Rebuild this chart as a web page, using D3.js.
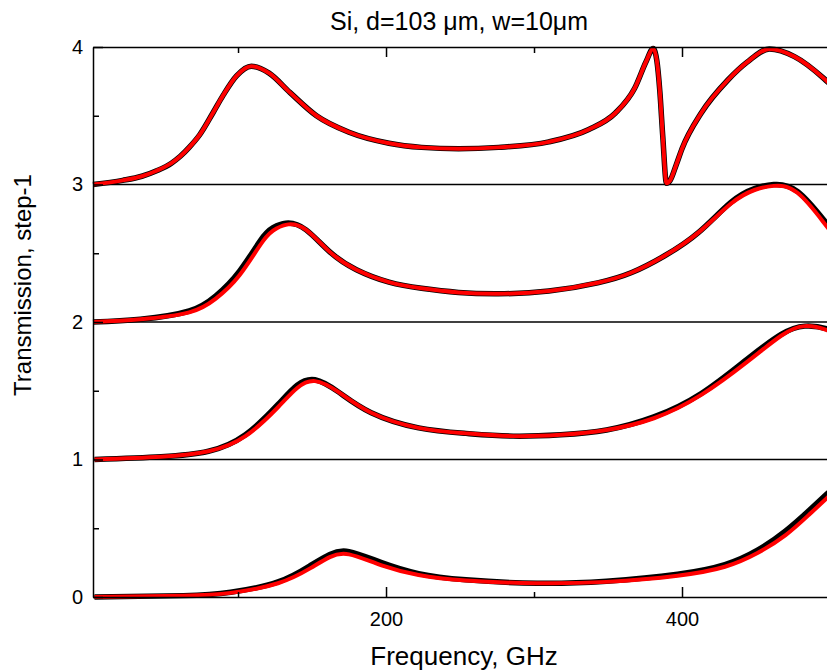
<!DOCTYPE html>
<html>
<head>
<meta charset="utf-8">
<script src="https://cdn.jsdelivr.net/npm/d3@7"></script>
<style>
  body { margin: 0; background: #fff; }
  text { font-family: Arial, "Liberation Sans", sans-serif; fill: #000; }
</style>
</head>
<body>
<div class="svg-container"></div>
<script>
// Frequency (GHz) and transmission (+ step offset)
const freqTop = [2, 22, 35, 45, 55, 61, 67, 74, 83, 90, 99, 109, 121, 135, 153, 175, 202, 224, 249, 276, 310, 337, 355, 368, 376, 380.5, 383, 385, 387, 389.5, 392, 396, 400, 413, 431, 444, 459, 476, 496, 502];
const transTop = [3.0, 3.03, 3.06, 3.10, 3.155, 3.205, 3.27, 3.36, 3.52, 3.65, 3.79, 3.86, 3.81, 3.67, 3.50, 3.38, 3.30, 3.27, 3.26, 3.27, 3.31, 3.40, 3.52, 3.70, 3.90, 3.99, 3.90, 3.68, 3.35, 3.01, 3.03, 3.14, 3.26, 3.52, 3.76, 3.89, 3.985, 3.93, 3.77, 3.71];

const freq2 = [2, 34, 67, 85, 101, 117, 126, 134, 146, 162, 180, 202, 224, 249, 276, 310, 343, 366, 388, 411, 433, 449, 462, 478, 496, 502];
const trans2Red = [2.0, 2.02, 2.07, 2.17, 2.34, 2.59, 2.68, 2.71, 2.67, 2.51, 2.38, 2.29, 2.245, 2.215, 2.205, 2.225, 2.285, 2.36, 2.48, 2.65, 2.86, 2.96, 2.99, 2.94, 2.72, 2.64];
const trans2Black = [2.0, 2.02, 2.08, 2.19, 2.37, 2.62, 2.70, 2.72, 2.67, 2.51, 2.38, 2.29, 2.245, 2.215, 2.205, 2.225, 2.285, 2.36, 2.48, 2.65, 2.87, 2.97, 3.0, 2.95, 2.74, 2.66];

const freq1 = [3, 48, 80, 105, 127, 140, 152, 168, 190, 222, 254, 286, 318, 349, 381, 413, 444, 467, 483, 498, 504];
const trans1Red = [1.0, 1.02, 1.06, 1.17, 1.38, 1.52, 1.57, 1.49, 1.34, 1.23, 1.19, 1.17, 1.18, 1.215, 1.30, 1.47, 1.71, 1.90, 1.97, 1.94, 1.90];
const trans1Black = [1.0, 1.02, 1.06, 1.18, 1.40, 1.54, 1.58, 1.49, 1.34, 1.23, 1.19, 1.17, 1.18, 1.215, 1.31, 1.48, 1.73, 1.91, 1.97, 1.95, 1.91];

const freq0 = [3, 63, 95, 127, 149, 162, 175, 197, 222, 254, 302, 349, 397, 429, 451, 470, 486, 498, 504];
const trans0Red = [0.0, 0.01, 0.03, 0.10, 0.21, 0.29, 0.31, 0.23, 0.16, 0.12, 0.10, 0.11, 0.155, 0.22, 0.32, 0.45, 0.60, 0.72, 0.78];
const trans0Black = [0.0, 0.01, 0.035, 0.11, 0.23, 0.31, 0.33, 0.25, 0.17, 0.125, 0.10, 0.115, 0.165, 0.235, 0.34, 0.48, 0.63, 0.75, 0.81];

const stepLines = [1, 2, 3];
const yMajor = [0, 1, 2, 3, 4];
const yMinor = [0.5, 1.5, 2.5, 3.5];
const xMajor = [200, 400];
const xMinor = [100, 300, 500];

const zip = (xs, ys) => xs.map((x, i) => ({ f: x, t: ys[i] }));

// the sharp resonance on top keeps the monotone curve, the rest are smooth splines
const series = [
  { pts: zip(freqTop, transTop), color: 'black', sharp: true },
  { pts: zip(freqTop, transTop), color: 'red', sharp: true },
  { pts: zip(freq2, trans2Black), color: 'black' },
  { pts: zip(freq2, trans2Red), color: 'red' },
  { pts: zip(freq1, trans1Black), color: 'black' },
  { pts: zip(freq1, trans1Red), color: 'red' },
  { pts: zip(freq0, trans0Black), color: 'black' },
  { pts: zip(freq0, trans0Red), color: 'red' }
];

const W = 827, H = 671;
const margin = { top: 47, right: -3, bottom: 74, left: 93 };
const width = W - margin.left - margin.right;
const height = H - margin.top - margin.bottom;

const xScale = d3.scaleLinear().domain([2, 500]).range([0, width]);
const yScale = d3.scaleLinear().domain([0, 4]).range([height, 0]);

const svg = d3.select('.svg-container')
  .append('svg')
  .attr('width', W)
  .attr('height', H)
  .append('g')
  .attr('transform', `translate(${margin.left}, ${margin.top})`);

// step lines
svg.append('g')
  .selectAll('line')
  .data(stepLines)
  .enter()
  .append('line')
  .attr('x1', 0).attr('x2', width)
  .attr('y1', d => yScale(d)).attr('y2', d => yScale(d))
  .attr('stroke', '#000')
  .attr('stroke-width', 1.5);

// curves
const lineSharp = d3.line()
  .x(d => xScale(d.f))
  .y(d => yScale(d.t))
  .curve(d3.curveMonotoneX);
const lineSmooth = d3.line()
  .x(d => xScale(d.f))
  .y(d => yScale(d.t))
  .curve(d3.curveNatural);

svg.append('g')
  .selectAll('path')
  .data(series)
  .enter()
  .append('path')
  .attr('d', d => (d.sharp ? lineSharp : lineSmooth)(d.pts))
  .attr('fill', 'none')
  .attr('stroke', d => d.color)
  .attr('stroke-width', d => d.color == 'red' ? 4 : 5.5)
  .attr('stroke-linejoin', 'round');

// axes: ticks point inward
const yAxis = d3.axisLeft(yScale).tickValues(yMajor).tickFormat(d3.format('d'))
  .tickSize(-10).tickPadding(10).tickSizeOuter(0);
const yAxisDraw = svg.append('g').attr('class', 'y axis').call(yAxis);
yAxisDraw.select('.domain').attr('stroke-width', 1.5);
yAxisDraw.selectAll('.tick line').attr('stroke-width', 1.5);
yAxisDraw.selectAll('.tick text').style('font-size', '20px');

svg.append('g')
  .call(d3.axisLeft(yScale).tickValues(yMinor).tickSize(-6).tickFormat('').tickSizeOuter(0))
  .call(g => g.select('.domain').remove())
  .selectAll('.tick line').attr('stroke-width', 1.5);

const xAxis = d3.axisBottom(xScale).tickValues(xMajor).tickSize(-10).tickPadding(15).tickSizeOuter(0);
const xAxisDraw = svg.append('g')
  .attr('class', 'x axis')
  .attr('transform', `translate(0, ${height})`)
  .call(xAxis);
xAxisDraw.select('.domain').attr('stroke-width', 1.5);
xAxisDraw.selectAll('.tick line').attr('stroke-width', 1.5);
xAxisDraw.selectAll('.tick text').style('font-size', '20px');

svg.append('g')
  .attr('transform', `translate(0, ${height})`)
  .call(d3.axisBottom(xScale).tickValues(xMinor).tickSize(-5).tickFormat('').tickSizeOuter(0))
  .call(g => g.select('.domain').remove())
  .selectAll('.tick line').attr('stroke-width', 1.5);

// top axis, no labels
const topAxis = svg.append('g')
  .call(d3.axisTop(xScale).tickValues(xMajor).tickSize(-10).tickFormat('').tickSizeOuter(0));
topAxis.select('.domain').attr('stroke-width', 1.5);
topAxis.selectAll('.tick line').attr('stroke-width', 1.5);
svg.append('g')
  .call(d3.axisTop(xScale).tickValues(xMinor).tickSize(-6).tickFormat('').tickSizeOuter(0))
  .call(g => g.select('.domain').remove())
  .selectAll('.tick line').attr('stroke-width', 1.5);

svg.selectAll('.domain, .tick line').attr('stroke', '#000');
svg.selectAll('.tick text').attr('fill', '#000').style('font-family', 'Arial, "Liberation Sans", sans-serif');

// title & labels
svg.append('text')
  .attr('x', 459 - margin.left)
  .attr('y', 30 - margin.top)
  .attr('text-anchor', 'middle')
  .style('font-size', '25px')
  .text('Si, d=103 \u03bcm, w=10\u03bcm');

svg.append('text')
  .attr('x', 464 - margin.left)
  .attr('y', 665 - margin.top)
  .attr('text-anchor', 'middle')
  .style('font-size', '26px')
  .text('Frequency, GHz');

svg.append('text')
  .attr('transform', `translate(${31 - margin.left}, ${285 - margin.top}) rotate(-90)`)
  .attr('text-anchor', 'middle')
  .style('font-size', '24px')
  .text('Transmission, step-1');
</script>
</body>
</html>
